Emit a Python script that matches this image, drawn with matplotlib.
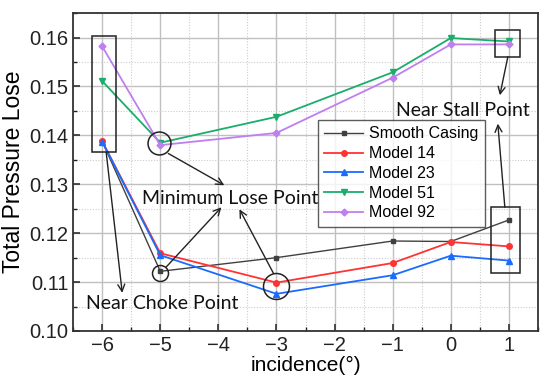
import matplotlib
matplotlib.use("Agg")
import matplotlib.pyplot as plt
from matplotlib.patches import Rectangle
from matplotlib.ticker import MultipleLocator

incidence = [-6, -5, -3, -1, 0, 1]
smooth_casing = [0.1388, 0.1122, 0.1150, 0.1184, 0.1183, 0.1227]
model_14 = [0.1388, 0.1159, 0.1099, 0.1139, 0.1182, 0.1173]
model_23 = [0.1387, 0.1155, 0.1076, 0.1114, 0.1154, 0.1144]
model_51 = [0.1511, 0.1385, 0.1438, 0.1529, 0.1599, 0.1592]
model_92 = [0.1582, 0.1380, 0.1405, 0.1518, 0.1586, 0.1586]
series_names = ["Smooth Casing", "Model 14", "Model 23", "Model 51", "Model 92"]
x_ticks = [-6, -5, -4, -3, -2, -1, 0, 1]
y_ticks = [0.10, 0.11, 0.12, 0.13, 0.14, 0.15, 0.16]

plt.rcParams['font.family'] = ['Liberation Sans', 'DejaVu Sans']

fig = plt.figure(figsize=(5.5, 3.86), dpi=100)
ax = fig.add_axes([0.133, 0.1425, 0.845, 0.8235])

styles = [
    dict(color="#404040", marker="s", ms=3.5, lw=1.0),
    dict(color="#ff3333", marker="o", ms=4, lw=1.3),
    dict(color="#1a6cff", marker="^", ms=4.5, lw=1.3),
    dict(color="#1aad6c", marker="v", ms=4.5, lw=1.3),
    dict(color="#bf7fef", marker="D", ms=3.5, lw=1.3),
]
for vals, name, st in zip([smooth_casing, model_14, model_23, model_51, model_92], series_names, styles):
    ax.plot(incidence, vals, label=name, color=st["color"], marker=st["marker"],
            markersize=st["ms"], linewidth=st["lw"], zorder=3)

ax.set_xlim(-6.5, 1.5)
ax.set_ylim(0.10, 0.165)
ax.set_xticks(x_ticks)
ax.set_xticklabels(["\u22126", "\u22125", "\u22124", "\u22123", "\u22122", "\u22121", "0", "1"])
ax.set_yticks(y_ticks)
ax.set_yticklabels([f"{v:.2f}" for v in y_ticks])
ax.xaxis.set_minor_locator(MultipleLocator(0.5))
ax.yaxis.set_minor_locator(MultipleLocator(0.005))
ax.grid(True, which="major", color="#c0c0c0", linewidth=1.0, linestyle="-", zorder=0)
ax.grid(True, which="minor", color="#cccccc", linewidth=0.8, linestyle=(0, (1, 1.5)), zorder=0)
ax.set_axisbelow(True)
ax.tick_params(which="both", direction="in", labelsize=14.5, colors="#222222")
ax.tick_params(which="major", length=5, width=1.1)
ax.tick_params(which="minor", length=3, width=1.0)
for s in ax.spines.values():
    s.set_color("#333333")
    s.set_linewidth(1.3)

ax.set_xlabel("incidence(\u00b0)", fontsize=15, labelpad=1)
ax.set_ylabel("Total Pressure Lose", fontsize=16.5, labelpad=3)

leg = ax.legend(loc="upper left", bbox_to_anchor=(0.527, 0.664), fontsize=11.5,
                frameon=True, fancybox=False, edgecolor="#333333", handlelength=2.4,
                borderpad=0.4, labelspacing=0.3, handletextpad=0.4, borderaxespad=0)
leg.get_frame().set_linewidth(1.0)
leg.set_zorder(5)

# annotations
kw = dict(fill=False, edgecolor="#222222", linewidth=1.1, zorder=4)
ax.add_patch(Rectangle((-6.17, 0.1365), 0.41, 0.0239, **kw))
ax.add_patch(Rectangle((0.759, 0.1561), 0.43, 0.0055, **kw))
ax.add_patch(Rectangle((0.69, 0.1118), 0.50, 0.0135, **kw))

for cx, cy, d in [(-5.02, 0.1384, 16.5), (-5.0, 0.1118, 11.5), (-3.0, 0.1092, 18.7)]:
    ax.plot([cx], [cy], marker="o", markersize=d, markerfacecolor="none",
            markeredgecolor="#222222", markeredgewidth=1.1, zorder=4)

afont = dict(family=["Lato", "DejaVu Sans"], fontsize=14, color="#111111")
ax.text(0.207, 0.1451, "Near Stall Point", ha="center", va="center", zorder=6, **afont)
ax.text(-3.79, 0.1271, "Minimum Lose Point", ha="center", va="center", zorder=6, **afont)
ax.text(-4.96, 0.1057, "Near Choke Point", ha="center", va="center", zorder=6, **afont)

arrows = [
    ((0.983, 0.1561), (0.845, 0.1482)),
    ((0.931, 0.1253), (0.810, 0.1424)),
    ((-4.862, 0.1363), (-3.897, 0.1298)),
    ((-4.897, 0.1131), (-3.948, 0.1253)),
    ((-3.052, 0.1118), (-3.638, 0.1249)),
    ((-5.931, 0.1365), (-5.655, 0.1078)),
]
for tail, head in arrows:
    ax.annotate("", xy=head, xytext=tail,
                arrowprops=dict(arrowstyle="->,head_length=0.5,head_width=0.25",
                                color="#222222", lw=1.0, shrinkA=0, shrinkB=0),
                zorder=6)

fig.savefig("out.png", dpi=100)
